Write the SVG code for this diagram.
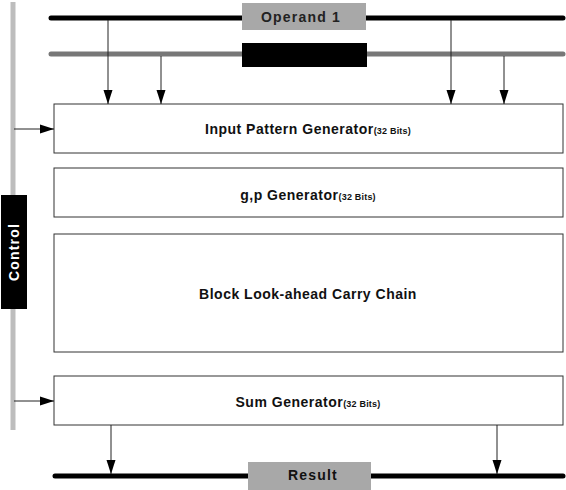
<svg xmlns="http://www.w3.org/2000/svg" width="566" height="490" viewBox="0 0 566 490">
<style>
.box{fill:#fff;stroke:#333;stroke-width:1}
.lbl{font-family:"Liberation Sans",Arial,sans-serif;font-weight:bold;font-size:14px;letter-spacing:0.5px;fill:#111;text-anchor:middle}
.sm{font-size:9px;letter-spacing:0.2px}
.con{stroke:#222;stroke-width:1;fill:none;marker-end:url(#ah)}
.bus{stroke-width:5;stroke-linecap:round;fill:none}
.tag{font-family:"Liberation Sans",Arial,sans-serif;font-weight:bold;font-size:14px;letter-spacing:1.2px;text-anchor:middle}
</style>
<defs>
<marker id="ah" markerUnits="userSpaceOnUse" markerWidth="14" markerHeight="10" refX="14" refY="5" orient="auto">
<path d="M0,0.5 L14,5 L0,9.5 Z" fill="#000"/>
</marker>
</defs>
<rect width="566" height="490" fill="#fff"/>
<g id="operand1">
<line class="bus" x1="51" y1="18" x2="563" y2="18" stroke="#000"/>
<rect x="242" y="3" width="124" height="27" fill="#a8a8a8"/>
<text class="tag" x="301" y="22" fill="#222">Operand 1</text>
</g>
<g id="operand2">
<line class="bus" x1="51" y1="54" x2="563" y2="54" stroke="#777"/>
<rect x="242" y="43" width="125" height="24" fill="#000"/>
</g>
<g id="control">
<line x1="13" y1="2" x2="13" y2="430" stroke="#bdbdbd" stroke-width="5"/>
<rect x="1" y="195" width="26" height="114" fill="#000"/>
<text class="tag" transform="translate(19,252) rotate(-90)" fill="#fff">Control</text>
</g>
<g id="input-pattern-generator">
<rect class="box" x="54" y="104" width="509" height="49"/>
<text class="lbl" x="308" y="134">Input Pattern Generator<tspan class="sm">(32 Bits)</tspan></text>
</g>
<g id="gp-generator">
<rect class="box" x="54" y="168" width="509" height="49"/>
<text class="lbl" x="308" y="200">g,p Generator<tspan class="sm">(32 Bits)</tspan></text>
</g>
<g id="carry-chain">
<rect class="box" x="54" y="234" width="509" height="118"/>
<text class="lbl" x="308" y="299">Block Look-ahead Carry Chain</text>
</g>
<g id="sum-generator">
<rect class="box" x="54" y="376" width="509" height="49"/>
<text class="lbl" x="308" y="407">Sum Generator<tspan class="sm">(32 Bits)</tspan></text>
</g>
<g id="result">
<line class="bus" x1="55" y1="476" x2="563" y2="476" stroke="#000"/>
<rect x="248" y="462" width="123" height="28" fill="#a8a8a8"/>
<text class="tag" x="313" y="480" fill="#111">Result</text>
</g>
<g id="connectors">
<line class="con" x1="108" y1="20" x2="108" y2="104"/>
<line class="con" x1="161" y1="56" x2="161" y2="104"/>
<line class="con" x1="451" y1="20" x2="451" y2="104"/>
<line class="con" x1="504" y1="56" x2="504" y2="104"/>
<line class="con" x1="14" y1="129" x2="54" y2="129"/>
<line class="con" x1="14" y1="401" x2="54" y2="401"/>
<line class="con" x1="111" y1="425" x2="111" y2="474"/>
<line class="con" x1="497" y1="425" x2="497" y2="474"/>
</g>
</svg>
